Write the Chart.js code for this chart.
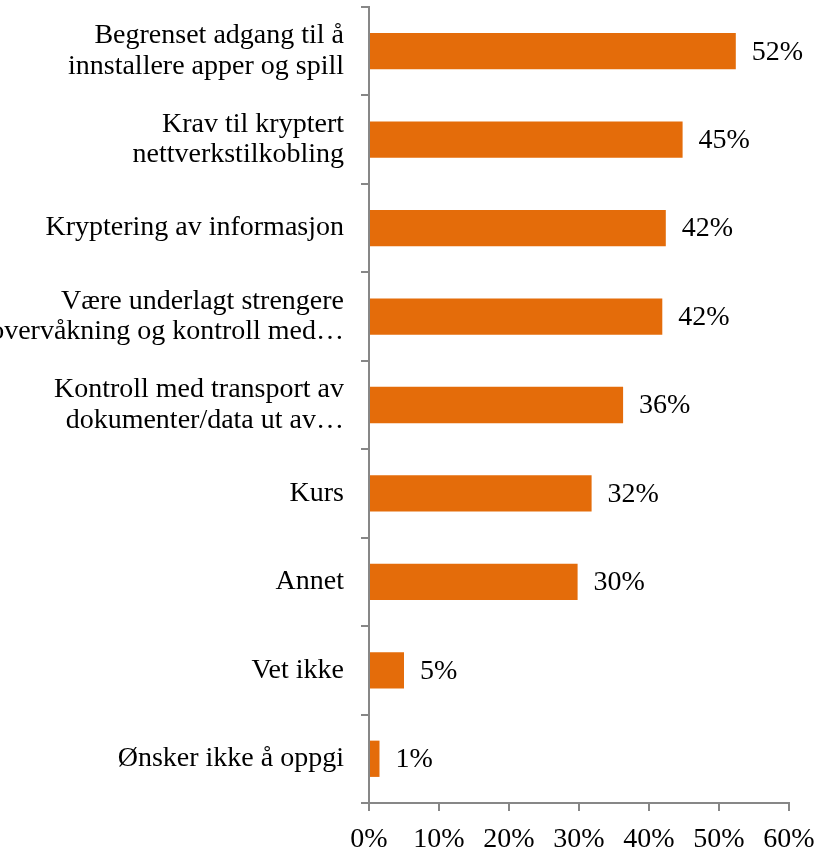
<!DOCTYPE html>
<html>
<head>
<meta charset="utf-8">
<script src="https://cdn.jsdelivr.net/npm/chart.js@4.4.1/dist/chart.umd.min.js"></script>
<style>
  html, body { margin: 0; padding: 0; background: #fff; }
  #wrap { width: 830px; height: 852px; position: relative; }
</style>
</head>
<body>
<div id="wrap"><canvas id="chart"></canvas></div>
<script>
// Tiltak mot mobil sikkerhetsrisiko — andel som svarte (%)
const CATEGORIES = [
    ['Begrenset adgang til å', 'innstallere apper og spill'],
    ['Krav til kryptert', 'nettverkstilkobling'],
    'Kryptering av informasjon',
    ['Være underlagt strengere', 'overvåkning og kontroll med…'],
    ['Kontroll med transport av', 'dokumenter/data ut av…'],
    'Kurs',
    'Annet',
    'Vet ikke',
    'Ønsker ikke å oppgi',
];
const VALUES = [52.4, 44.8, 42.4, 41.9, 36.3, 31.8, 29.8, 5.0, 1.5];
const VALUE_LABELS = ['52%', '45%', '42%', '42%', '36%', '32%', '30%', '5%', '1%'];
const X_TICKS = [0, 10, 20, 30, 40, 50, 60];

const ORANGE = '#e46c0a';
const AXIS = '#878787';
const FONT = "'Liberation Serif', 'Times New Roman', serif";

// value labels right of each bar (no datalabels plugin offline)
const barLabels = {
    id: 'barLabels',
    afterDatasetsDraw(chart) {
        const ctx = chart.ctx;
        const meta = chart.getDatasetMeta(0);
        ctx.save();
        ctx.font = '28px ' + FONT;
        ctx.fillStyle = '#000';
        ctx.textAlign = 'left';
        ctx.textBaseline = 'middle';
        meta.data.forEach((bar, i) => {
            ctx.fillText(VALUE_LABELS[i], bar.x + 16, bar.y + 1);
        });
        ctx.restore();
    },
};

new Chart(document.getElementById('chart'), {
    type: 'bar',
    data: {
        labels: CATEGORIES,
        datasets: [{
            data: VALUES,
            backgroundColor: ORANGE,
            borderWidth: 0,
            barPercentage: 0.41,
            categoryPercentage: 1,
        }],
    },
    options: {
        indexAxis: 'y',
        responsive: true,
        maintainAspectRatio: false,
        animation: false,
        layout: { padding: { top: 7, right: 41, left: 0, bottom: 0 } },
        plugins: {
            legend: { display: false },
            tooltip: { enabled: false },
        },
        scales: {
            x: {
                min: 0,
                max: 60,
                afterBuildTicks: (scale) => { scale.ticks = X_TICKS.map(v => ({ value: v })); },
                afterFit: (scale) => { scale.height = 49; },
                border: { color: AXIS, width: 2 },
                grid: { drawOnChartArea: false, drawTicks: true, tickLength: 8, color: AXIS, lineWidth: 2 },
                ticks: {
                    color: '#000',
                    padding: 12,
                    font: { family: FONT, size: 28 },
                    callback: (v) => v + '%',
                },
            },
            y: {
                afterFit: (scale) => {
                    scale.width = 369;
                    // no extra room for the first/last label overhang
                    scale.paddingTop = 0;
                    scale.paddingBottom = 0;
                },
                border: { color: AXIS, width: 2 },
                grid: { drawOnChartArea: false, drawTicks: true, tickLength: 8, color: AXIS, lineWidth: 2 },
                ticks: {
                    color: '#000',
                    padding: 17,
                    autoSkip: false,
                    font: { family: FONT, size: 28, lineHeight: 1.1 },
                },
            },
        },
    },
    plugins: [barLabels],
});
</script>
</body>
</html>
